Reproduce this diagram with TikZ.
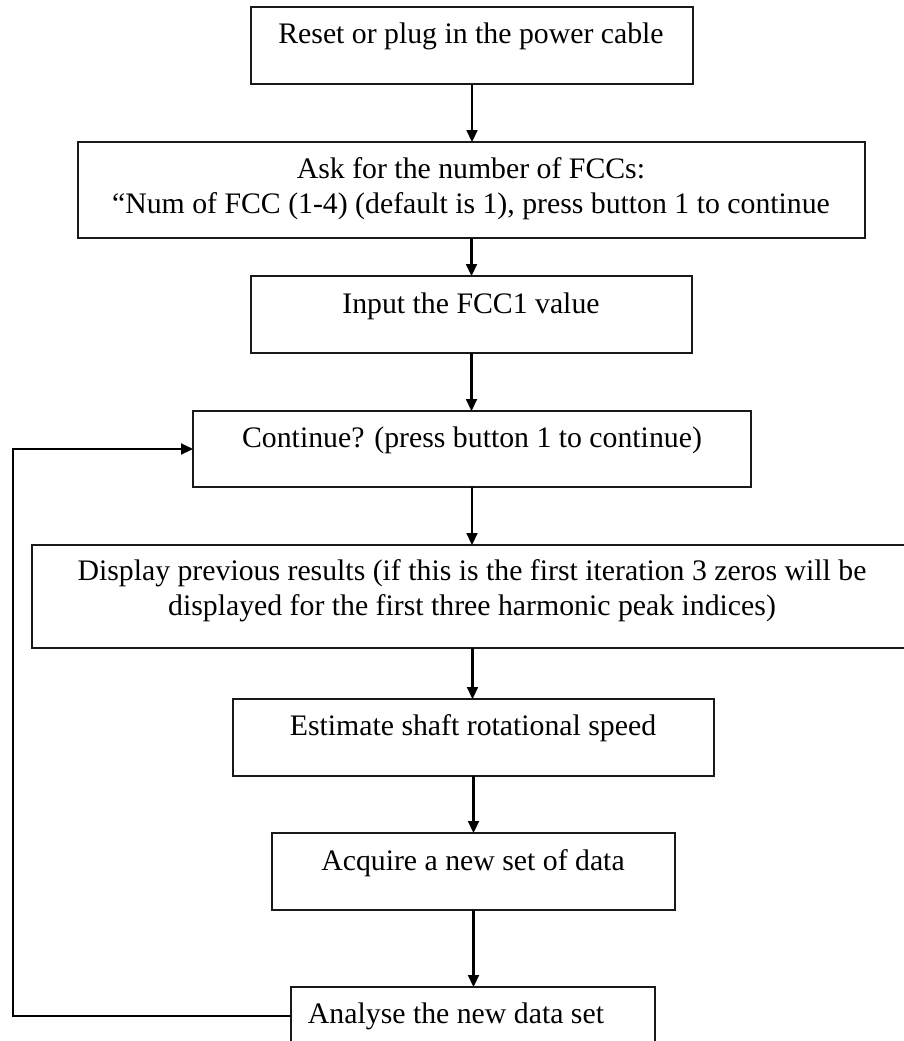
\documentclass[tikz,border=0pt]{standalone}
\usepackage{fontspec}
\setmainfont{Liberation Serif}
\usetikzlibrary{arrows.meta,positioning}
\newcommand{\flowbox}[5]{\node[box, minimum width=#4*0.403pt, minimum height=#5*0.403pt] (#1) at (#2,#3) {};}
\newcommand{\flowtext}[4]{\node[lbl] (#1) at (#2,#3) {#4};}

\begin{document}
\begin{tikzpicture}[x=0.403pt, y=-0.403pt,
		box/.style={draw=black!90, line width=0.85pt, anchor=north west, inner sep=0pt, outer sep=0pt},
		lbl/.style={anchor=base, align=center, inner sep=0pt, font=\fontsize{12}{14.1}\selectfont},
		arr/.style={draw=black, line width=0.85pt, -{Triangle[length=4.8pt,width=4.4pt]}}]
		\useasboundingbox (0,0) rectangle (904,1041);
		\flowbox{reset}{251}{7}{442}{77}
		\flowbox{askfcc}{78}{142}{787}{96}
		\flowbox{input}{251}{276}{441}{77}
		\flowbox{cont}{193}{411}{558}{76}
		\flowbox{display}{32}{545}{881}{103}
		\flowbox{speed}{233}{699}{481}{77}
		\flowbox{acquire}{272}{833}{403}{77}
		\flowbox{analyse}{291}{987}{364}{58}
		\flowtext{resettxt}{471}{43}{Reset or plug in the power cable}
		\flowtext{askfcctxt}{471}{213}{Ask for the number of FCCs:\\``Num of FCC (1-4) (default is 1), press button 1 to continue}
		\flowtext{inputtxt}{471}{313}{Input the FCC1 value}
		\flowtext{conttxt}{472}{447}{Continue? (press button 1 to continue)}
		\flowtext{displaytxt}{472}{615}{Display previous results (if this is the first iteration 3 zeros will be\\displayed for the first three harmonic peak indices)}
		\flowtext{speedtxt}{473}{735}{Estimate shaft rotational speed}
		\flowtext{acquiretxt}{473}{870}{Acquire a new set of data}
		\flowtext{analysetxt}{456}{1023}{Analyse the new data set}
		\coordinate (loopx) at (13,0);
		\draw[arr] (reset.south) -- (reset.south |- askfcc.north);
		\draw[arr] (askfcc.south) -- (askfcc.south |- input.north);
		\draw[arr] (input.south) -- (input.south |- cont.north);
		\draw[arr] (cont.south) -- (cont.south |- display.north);
		\draw[arr] (display.south) -- (display.south |- speed.north);
		\draw[arr] (speed.south) -- (speed.south |- acquire.north);
		\draw[arr] (acquire.south) -- (acquire.south |- analyse.north);
		\draw[arr] (analyse.west) -- (loopx |- analyse.west) -- (loopx |- cont.west) -- (cont.west);
\end{tikzpicture}
\end{document}
